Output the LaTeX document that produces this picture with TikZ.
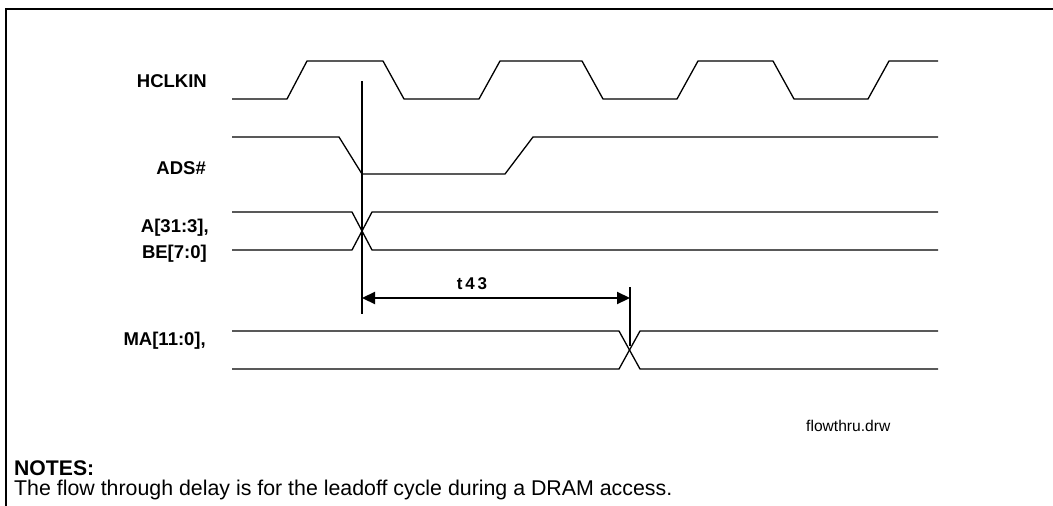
\documentclass[tikz,border=0pt]{standalone}
\usepackage{fontspec}
\setmainfont{Liberation Sans}
\usetikzlibrary{arrows.meta}
\begin{document}
\begin{tikzpicture}[x=1pt,y=-1pt,
  lab/.style={inner sep=0pt,anchor=base east,font=\fontsize{18.5pt}{20pt}\selectfont\bfseries},
  wave/.style={line width=1.3pt,line join=miter},
  marker/.style={line width=1.3pt},
  dim/.style={line width=2.2pt,{Triangle[length=13pt,width=12pt]}-{Triangle[length=13pt,width=12pt]}},
  frame/.style={line width=2pt}]
\useasboundingbox (0,0) rectangle (1053,506);
% frame (top and left)
\draw[frame] (1053,9) -- (6,9) -- (6,506);
% labels
\node[lab] (lhclk) at (207,87) {HCLKIN};
\node[lab] (lads) at (206,174.5) {ADS\#};
\node[lab] (la) at (209,232) {A[31:3],};
\node[lab] (lbe) at (207,258) {BE[7:0]};
\node[lab] (lma) at (206,345) {MA[11:0],};
% HCLKIN
\draw[wave] (232,99) -- (287,99) -- (307,61) -- (383,61) -- (404,99) -- (479,99) -- (500,61)
  -- (582,61) -- (603,99) -- (677,99) -- (698,61) -- (773,61) -- (794,99) -- (868,99) -- (889,61) -- (938,61);
% ADS#
\draw[wave] (232,137) -- (339,137) -- (362,174) -- (505,174) -- (533,137) -- (938,137);
% A / BE bus
\draw[wave] (232,212) -- (352,212) -- (372,250) -- (938,250);
\draw[wave] (232,250) -- (352,250) -- (372,212) -- (938,212);
% MA bus
\draw[wave] (232,331) -- (619,331) -- (640,369) -- (938,369);
\draw[wave] (232,369) -- (619,369) -- (640,331) -- (938,331);
% timing markers
\coordinate (m1top) at (362,81);
\coordinate (m1bot) at (362,314);
\coordinate (m2top) at (630,287);
\coordinate (m2bot) at (630,346);
\draw[marker] (m1top) -- (m1bot);
\draw[marker] (m2top) -- (m2bot);
\coordinate (tA) at (362,298);
\coordinate (tB) at (630,298);
\draw[dim] (tA) -- (tB);
\node[inner sep=0pt,anchor=base,font=\fontsize{17pt}{18pt}\selectfont\bfseries] (t43) at (472,289) {t\,4\,3};
% file name
\node[inner sep=0pt,anchor=base west,font=\fontsize{15.6pt}{17pt}\selectfont] (fname) at (806,431) {flowthru.drw};
% notes
\node[inner sep=0pt,anchor=base west,font=\bfseries] (notes) at (14,475) {\resizebox{80pt}{!}{NOTES:}};
\node[inner sep=0pt,anchor=base west] (notetext) at (14,495) {\resizebox{658pt}{!}{The flow through delay is for the leadoff cycle during a DRAM access.}};
\end{tikzpicture}
\end{document}
